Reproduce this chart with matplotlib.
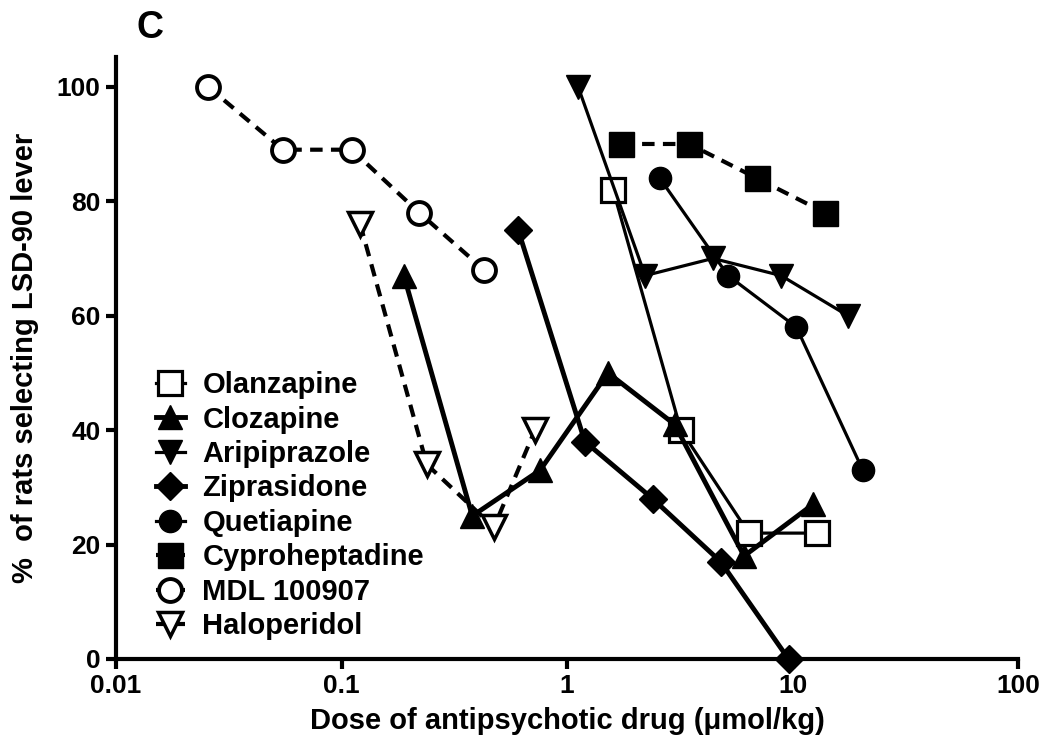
import matplotlib
matplotlib.use("Agg")
import matplotlib.pyplot as plt
import matplotlib.ticker as mticker

plt.rcParams['font.family'] = ['Liberation Sans', 'DejaVu Sans']
plt.rcParams['font.weight'] = 'bold'

# ---- data (dose in umol/kg, % of rats selecting LSD-90 lever) ----
olanzapine_x = [1.60, 3.2, 6.4, 12.8]
olanzapine_y = [82, 40, 22, 22]

clozapine_x = [0.189, 0.38, 0.76, 1.52, 3.0, 6.1, 12.3]
clozapine_y = [67, 25, 33, 50, 41, 18, 27]

aripiprazole_x = [1.12, 2.22, 4.44, 8.9, 17.6]
aripiprazole_y = [100, 67, 70, 67, 60]

ziprasidone_x = [0.607, 1.2, 2.4, 4.8, 9.6]
ziprasidone_y = [75, 38, 28, 17, 0]

quetiapine_x = [2.58, 5.18, 10.4, 20.5]
quetiapine_y = [84, 67, 58, 33]

cyproheptadine_x = [1.74, 3.48, 6.96, 13.9]
cyproheptadine_y = [90, 90, 84, 78]

mdl_x = [0.0256, 0.055, 0.111, 0.221, 0.429]
mdl_y = [100, 89, 89, 78, 68]

haloperidol_x = [0.121, 0.239, 0.474, 0.721]
haloperidol_y = [76, 34, 23, 40]

x_ticks = [0.01, 0.1, 1, 10, 100]
x_ticklabels = ['0.01', '0.1', '1', '10', '100']
y_ticks = [0, 20, 40, 60, 80, 100]

fig = plt.figure(figsize=(10.5, 7.54), dpi=100)
ax = fig.add_axes([116/1050, 1 - 659/754, (1018 - 116)/1050, (659 - 57)/754])

dash = (0, (3, 2))
series = [
    ("Olanzapine", olanzapine_x, olanzapine_y, dict(marker='s', ms=17, mfc='white', mew=2.3, ls='-', lw=2.3)),
    ("Clozapine", clozapine_x, clozapine_y, dict(marker='^', ms=17, mfc='black', mew=1, ls='-', lw=3.5)),
    ("Aripiprazole", aripiprazole_x, aripiprazole_y, dict(marker='v', ms=17, mfc='black', mew=1, ls='-', lw=2.3)),
    ("Ziprasidone", ziprasidone_x, ziprasidone_y, dict(marker='D', ms=14.5, mfc='black', mew=1, ls='-', lw=3.5)),
    ("Quetiapine", quetiapine_x, quetiapine_y, dict(marker='o', ms=16, mfc='black', mew=1, ls='-', lw=2.3)),
    ("Cyproheptadine", cyproheptadine_x, cyproheptadine_y, dict(marker='s', ms=18, mfc='black', mew=1, ls=dash, lw=3)),
    ("MDL 100907", mdl_x, mdl_y, dict(marker='o', ms=16.5, mfc='white', mew=2.8, ls=dash, lw=3)),
    ("Haloperidol", haloperidol_x, haloperidol_y, dict(marker='v', ms=17.5, mfc='white', mew=2.5, ls=dash, lw=3)),
]

for i, (name, xs, ys, st) in enumerate(series):
    ax.plot(xs, ys, color='black', mec='black', label=name, clip_on=False,
            zorder=3 + i * 0.1, **st)

ax.set_xscale('log')
ax.set_xlim(0.01, 100)
ax.set_ylim(0, 105.2)
ax.set_xticks(x_ticks)
ax.set_xticklabels(x_ticklabels)
ax.xaxis.set_minor_locator(mticker.NullLocator())
ax.set_yticks(y_ticks)

for s in ['top', 'right']:
    ax.spines[s].set_visible(False)
for s in ['left', 'bottom']:
    ax.spines[s].set_linewidth(3)
ax.tick_params(axis='both', direction='out', length=7, width=3, labelsize=19, pad=4)
for lab in ax.get_xticklabels() + ax.get_yticklabels():
    lab.set_fontweight('bold')

ax.set_xlabel('Dose of antipsychotic drug (\u03bcmol/kg)', fontsize=21, fontweight='bold', labelpad=6)
ax.set_ylabel('%  of rats selecting LSD-90 lever', fontsize=21, fontweight='bold', labelpad=13)

leg = ax.legend(loc='upper left', bbox_to_anchor=(0.044, 0.478), frameon=False,
                fontsize=21, handlelength=1.0, handletextpad=0.6, labelspacing=0.22,
                borderpad=0, borderaxespad=0)
for t in leg.get_texts():
    t.set_fontweight('bold')

fig.text(150/1050, 1 - 28/754, 'C', fontsize=27, fontweight='bold', ha='center', va='center')

fig.savefig('out.png', dpi=100)
